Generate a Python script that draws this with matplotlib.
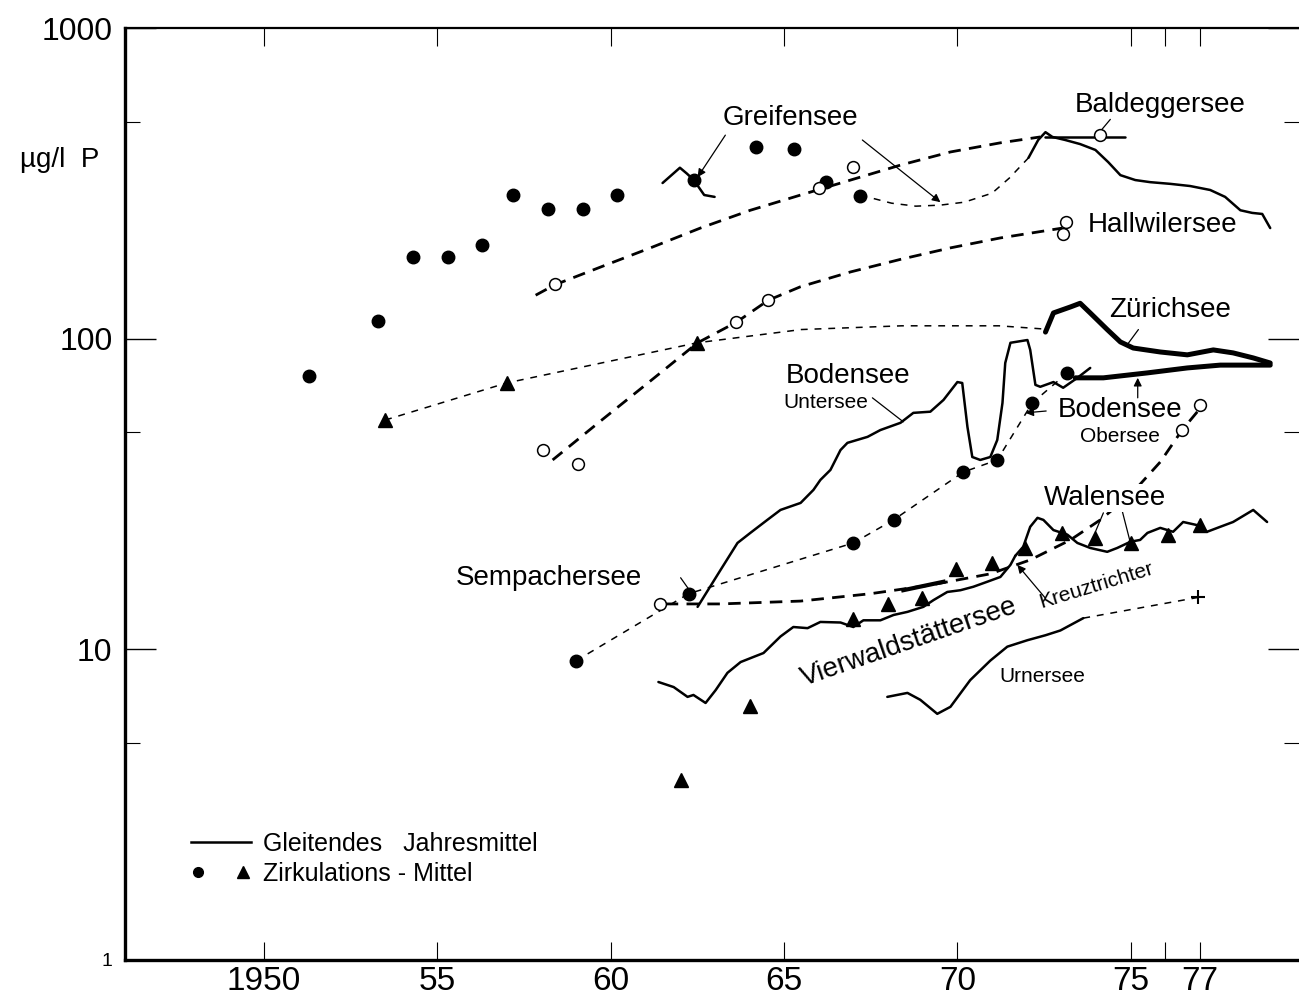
import matplotlib
matplotlib.use("Agg")
import matplotlib.pyplot as plt
from matplotlib.ticker import FixedLocator, NullFormatter
from matplotlib.lines import Line2D
from matplotlib.legend_handler import HandlerTuple

plt.rcParams["font.family"] = ["Liberation Sans", "DejaVu Sans"]

# ---- data (year, µg/l P) ----
greif_dots_year = [1951.3, 1953.3, 1954.3, 1955.3, 1956.3, 1957.2, 1958.2, 1959.2,
                   1960.2, 1962.4, 1964.2, 1965.3, 1966.2, 1967.2]
greif_dots_val = [76, 114, 183, 183, 200, 290, 262, 262, 290, 324, 414, 408, 320, 287]

greif_run_year = [1961.5, 1962.0, 1962.2, 1962.4, 1962.7, 1963.0]
greif_run_val = [317, 355, 340, 324, 290, 286]

greif_link_year = [1967.2, 1967.4, 1968.1, 1968.8, 1969.5, 1970.2, 1971.0, 1971.5, 1972.05]
greif_link_val = [287, 286, 273, 267, 269, 275, 294, 329, 382]

greif_late_year = [1972.05, 1972.33, 1972.54, 1972.74, 1973.11, 1973.54, 1973.98, 1974.35,
                   1974.70, 1975.13, 1975.56, 1976.14, 1976.71, 1977.29, 1977.72, 1978.16,
                   1978.50, 1978.79, 1979.02]
greif_late_val = [382, 436, 462, 446, 436, 423, 405, 370, 336, 324, 319, 315, 310, 301,
                  286, 259, 254, 252, 227]

baldegg_trend_year = [1957.84, 1958.39, 1959.71, 1961.15, 1962.59, 1964.03, 1965.48,
                      1966.92, 1968.36, 1969.80, 1971.24, 1972.39]
baldegg_trend_val = [138, 149, 170, 196, 227, 259, 290, 324, 362, 399, 427, 446]
baldegg_circ_year = [1958.4, 1966.0, 1967.0, 1974.1]
baldegg_circ_val = [150, 306, 357, 452]
baldegg_run_year = [1972.54, 1974.84]
baldegg_run_val = [446, 446]

hallwil_trend_year = [1958.33, 1959.71, 1961.15, 1962.51, 1963.63, 1964.55, 1965.48,
                      1966.92, 1968.36, 1969.80, 1971.24, 1973.03]
hallwil_trend_val = [40.7, 54.3, 73.1, 97, 113, 133, 147, 164, 180, 196, 211, 227]
hallwil_circ_year = [1958.04, 1959.05, 1963.63, 1964.55, 1973.14, 1973.05]
hallwil_circ_val = [43.8, 39.5, 113, 133, 237, 217]

zurich_tri_year = [1953.5, 1957.0, 1962.5]
zurich_tri_val = [54.7, 72, 97]
zurich_link_year = [1953.5, 1957.0, 1962.5, 1965.5, 1968.4, 1971.2, 1972.45]
zurich_link_val = [54.7, 72, 97, 107, 110, 110, 107.5]
zurich_run_year = [1972.54, 1972.77, 1973.26, 1973.54, 1973.83, 1974.32, 1974.70, 1975.07,
                   1975.85, 1976.63, 1977.38, 1977.95, 1978.53, 1979.02]
zurich_run_val = [105, 121, 126.5, 130, 121, 107, 97.6, 93.3, 90.6, 88.7, 92, 90, 86.7, 83.5]

ober_dots_year = [1959.0, 1962.25, 1967.0, 1968.16, 1970.17, 1971.15, 1972.16, 1973.17]
ober_dots_val = [9.18, 15.1, 22, 26.1, 37.2, 40.7, 62.1, 77.6]
ober_run_year = [1973.40, 1974.21, 1975.48, 1976.63, 1977.58, 1979.02]
ober_run_val = [74.8, 74.8, 77.6, 80.5, 82.2, 82.2]

unter_run_year = [1962.51, 1962.68, 1963.17, 1963.66, 1964.03, 1964.52, 1964.90, 1965.48,
                  1965.85, 1966.05, 1966.34, 1966.63, 1966.83, 1967.41, 1967.78, 1968.36,
                  1968.73, 1969.22, 1969.60, 1970.00, 1970.14, 1970.29, 1970.43, 1970.66,
                  1970.95, 1971.15, 1971.30, 1971.38, 1971.53, 1972.02, 1972.10, 1972.25,
                  1972.39, 1972.77, 1973.05, 1973.46, 1973.83]
unter_run_val = [13.7, 14.7, 18, 22, 23.7, 26.1, 28.1, 29.6, 32.6, 35.1, 37.8, 43.8, 46.2,
                 48.3, 50.8, 53.6, 57.7, 58.2, 63.5, 72.5, 72, 52, 41.6, 40.7, 41.6, 47.2,
                 62.1, 83.5, 97, 99, 92, 71, 70, 72.5, 69.5, 74.8, 80.5]

sempach_trend_year = [1961.59, 1963.17, 1965.48, 1967.49, 1969.22, 1970.95, 1972.10,
                      1973.26, 1974.12, 1974.99, 1975.85, 1976.48, 1977.15]
sempach_trend_val = [14.0, 14.0, 14.3, 15.1, 16.1, 17.5, 19.4, 22.5, 26.1, 31.4, 40.1,
                     50.8, 62.5]
sempach_circ_year = [1961.44, 1976.48, 1977.0]
sempach_circ_val = [14.0, 50.8, 61.2]
sempach_seg_year = [1968.44, 1969.60]
sempach_seg_val = [15.5, 16.5]

vierw_run_year = [1961.38, 1961.82, 1962.22, 1962.39, 1962.74, 1963.03, 1963.37, 1963.75,
                  1964.12, 1964.41, 1964.90, 1965.27, 1965.68, 1966.05, 1966.63, 1967.00,
                  1967.29, 1967.78, 1968.16, 1968.56, 1969.02, 1969.31, 1969.71, 1970.09,
                  1970.46, 1970.86, 1971.24, 1971.53, 1971.67]
vierw_run_val = [7.85, 7.56, 7.03, 7.13, 6.72, 7.39, 8.4, 9.1, 9.45, 9.73, 11.0, 11.8, 11.7,
                 12.25, 12.2, 11.8, 12.4, 12.4, 12.9, 13.2, 13.7, 14.4, 15.3, 15.5, 15.9,
                 16.5, 17.1, 18.7, 20.0]
vierw_tri_year = [1962.02, 1964.03, 1967.00, 1968.01, 1968.99, 1969.97, 1971.01]
vierw_tri_val = [3.80, 6.57, 12.5, 14.0, 14.6, 18.1, 19.0]

walen_run_year = [1971.67, 1971.90, 1972.10, 1972.31, 1972.48, 1972.77, 1973.17, 1973.46,
                  1973.83, 1974.32, 1974.61, 1974.99, 1975.27, 1975.48, 1975.85, 1976.22,
                  1976.51, 1976.92, 1977.20, 1977.58, 1977.95, 1978.53, 1978.93]
walen_run_val = [20.0, 21.4, 24.8, 26.5, 26.1, 24.2, 23.4, 22, 21.2, 20.6, 21.2, 22.2, 22.5,
                 23.7, 24.6, 23.9, 25.7, 25.1, 23.9, 24.8, 25.7, 28.1, 25.7]
walen_tri_year = [1971.96, 1973.03, 1973.98, 1975.01, 1976.08, 1977.0]
walen_tri_val = [21.2, 23.7, 22.8, 22, 23.4, 25.1]

urner_run_year = [1967.98, 1968.56, 1968.93, 1969.42, 1969.80, 1970.37, 1970.95, 1971.44,
                  1972.02, 1972.54, 1972.97, 1973.63]
urner_run_val = [7.03, 7.24, 6.88, 6.2, 6.53, 7.96, 9.2, 10.2, 10.7, 11.1, 11.5, 12.6]
urner_link_year = [1973.63, 1976.95]
urner_link_val = [12.6, 14.7]

xtick_years = [1950, 1955, 1960, 1965, 1970, 1975, 1976, 1977]
xtick_labels = ["1950", "55", "60", "65", "70", "75", "", "77"]
ytick_vals = [1, 10, 100, 1000]
ytick_labels = ["1", "10", "100", "1000"]

# ---- styles ----
K = "black"
thick_dash = dict(color=K, lw=2.0, linestyle=(0, (4.5, 3.0)))
thin_dash = dict(color=K, lw=1.1, linestyle=(0, (4.5, 4.5)))
run = dict(color=K, lw=1.8, solid_capstyle="round", solid_joinstyle="round")
heavy = dict(color=K, lw=3.6, solid_capstyle="round", solid_joinstyle="round")
dot = dict(ls="none", marker="o", ms=9, mfc=K, mec=K, zorder=5)
ring = dict(ls="none", marker="o", ms=8.5, mfc="white", mec=K, mew=1.1, zorder=5)
tri = dict(ls="none", marker="^", ms=10, mfc=K, mec=K, zorder=5)

fig = plt.figure(figsize=(12.99, 10.01), dpi=100)
ax = fig.add_axes([125 / 1299, 41 / 1001, 1174 / 1299, 932 / 1001])
ax.set_yscale("log")
ax.set_xlim(1946.0, 1979.85)
ax.set_ylim(1, 1000)

# trends / links
ax.plot(baldegg_trend_year, baldegg_trend_val, **thick_dash)
ax.plot(hallwil_trend_year, hallwil_trend_val, **thick_dash)
ax.plot(sempach_trend_year, sempach_trend_val, **thick_dash)
ax.plot(greif_link_year, greif_link_val, **thin_dash)
ax.plot(zurich_link_year, zurich_link_val, **thin_dash)
ax.plot(ober_dots_year, ober_dots_val, **thin_dash)
ax.plot(urner_link_year, urner_link_val, **thin_dash)

# moving annual means
ax.plot(greif_run_year, greif_run_val, **run)
ax.plot(greif_late_year, greif_late_val, **run)
ax.plot(baldegg_run_year, baldegg_run_val, **run)
ax.plot(unter_run_year, unter_run_val, **run)
ax.plot(vierw_run_year, vierw_run_val, **run)
ax.plot(walen_run_year, walen_run_val, **run)
ax.plot(urner_run_year, urner_run_val, **run)
ax.plot(zurich_run_year, zurich_run_val, **heavy)
ax.plot(ober_run_year, ober_run_val, **heavy)
ax.plot(sempach_seg_year, sempach_seg_val, color=K, lw=3.0)

# circulation means
ax.plot(greif_dots_year, greif_dots_val, **dot)
ax.plot(ober_dots_year, ober_dots_val, **dot)
ax.plot(zurich_tri_year, zurich_tri_val, **tri)
ax.plot(vierw_tri_year, vierw_tri_val, **tri)
ax.plot(walen_tri_year, walen_tri_val, **tri)
ax.plot(baldegg_circ_year, baldegg_circ_val, **ring)
ax.plot(hallwil_circ_year, hallwil_circ_val, **ring)
ax.plot(sempach_circ_year, sempach_circ_val, **ring)
ax.plot([urner_link_year[-1]], [urner_link_val[-1]], ls="none", marker="+", ms=10,
        mew=1.5, color=K)

# labels
big = 20
small = 15
mask = dict(facecolor="white", edgecolor="none", pad=1)
ax.text(1965.19, 513, "Greifensee", fontsize=big, ha="center", va="center")
ax.text(1975.85, 565, "Baldeggersee", fontsize=big, ha="center", va="center")
ax.text(1973.75, 232, "Hallwilersee", fontsize=big, ha="left", va="center")
ax.text(1976.14, 124, "Zürichsee", fontsize=big, ha="center", va="center")
ax.text(1966.86, 75.9, "Bodensee", fontsize=big, ha="center", va="center")
ax.text(1966.22, 62.1, "Untersee", fontsize=small, ha="center", va="center")
ax.text(1974.70, 59, "Bodensee", fontsize=big, ha="center", va="center")
ax.text(1974.70, 48.6, "Obersee", fontsize=small, ha="center", va="center")
ax.text(1974.27, 30.7, "Walensee", fontsize=big, ha="center", va="center", bbox=mask,
        zorder=4)
ax.text(1958.21, 17.0, "Sempachersee", fontsize=big, ha="center", va="center")
ax.text(1974.0, 16.1, "Kreuztrichter", fontsize=small, ha="center", va="center",
        rotation=17)
ax.text(1968.60, 10.5, "Vierwaldstättersee", fontsize=big, ha="center", va="center",
        rotation=19)
ax.text(1972.45, 8.2, "Urnersee", fontsize=small, ha="center", va="center")

arrow = dict(arrowstyle="-|>", color=K, lw=0.9, mutation_scale=12, shrinkA=0, shrinkB=0)
plain = dict(arrowstyle="-", color=K, lw=0.9, shrinkA=0, shrinkB=0)
ax.annotate("", xy=(1962.51, 331), xytext=(1963.31, 452), arrowprops=arrow)
ax.annotate("", xy=(1969.51, 275), xytext=(1967.26, 436), arrowprops=arrow)
ax.annotate("", xy=(1974.15, 469), xytext=(1974.41, 508), arrowprops=plain)
ax.annotate("", xy=(1974.87, 94.7), xytext=(1975.22, 107), arrowprops=plain)
ax.annotate("", xy=(1968.44, 54), xytext=(1967.55, 64.5), arrowprops=plain)
ax.annotate("", xy=(1971.96, 57.7), xytext=(1972.56, 58.5), arrowprops=arrow)
ax.annotate("", xy=(1975.20, 74.8), xytext=(1975.20, 64.5), arrowprops=arrow)
ax.annotate("", xy=(1973.98, 23.9), xytext=(1974.21, 27.5), arrowprops=plain)
ax.annotate("", xy=(1974.99, 22), xytext=(1974.76, 27.7), arrowprops=plain)
ax.annotate("", xy=(1971.73, 18.7), xytext=(1972.54, 14.6), arrowprops=arrow)
ax.annotate("", xy=(1962.31, 15.3), xytext=(1962.02, 17.0), arrowprops=plain)

# legend
h_line = Line2D([], [], color=K, lw=1.8)
h_dot = Line2D([], [], ls="none", marker="o", ms=7, color=K)
h_tri = Line2D([], [], ls="none", marker="^", ms=9, color=K)
ax.legend([h_line, (h_dot, h_tri)], ["Gleitendes   Jahresmittel", "Zirkulations - Mittel"],
          handler_map={tuple: HandlerTuple(ndivide=None, pad=1.2)},
          loc="lower left", bbox_to_anchor=(0.037, 0.055), frameon=False, fontsize=18,
          handlelength=2.4, handletextpad=0.5, labelspacing=0.25)

# axes / ticks
ax.set_xticks(xtick_years, xtick_labels)
ax.set_yticks(ytick_vals, ytick_labels)
ax.yaxis.set_minor_locator(FixedLocator([5, 50, 500]))
ax.yaxis.set_minor_formatter(NullFormatter())
ax.xaxis.set_minor_locator(FixedLocator([]))
ax.tick_params(axis="y", which="major", direction="in", length=22, width=1.0,
               labelsize=23, pad=9, left=True, right=True)
ax.tick_params(axis="y", which="minor", direction="in", length=11, width=0.8,
               left=True, right=True)
ax.tick_params(axis="x", which="major", direction="in", length=13, width=0.8,
               labelsize=24, pad=4, top=True, bottom=True)
ax.get_yticklabels()[0].set_fontsize(14)
ax.spines["left"].set_linewidth(2.4)
ax.spines["bottom"].set_linewidth(2.4)
ax.spines["top"].set_linewidth(1.6)
ax.spines["right"].set_visible(False)

fig.text(60 / 1299, 1 - 160 / 1001, "µg/l  P", fontsize=20, ha="center", va="center")

fig.savefig("out.png", dpi=100)
